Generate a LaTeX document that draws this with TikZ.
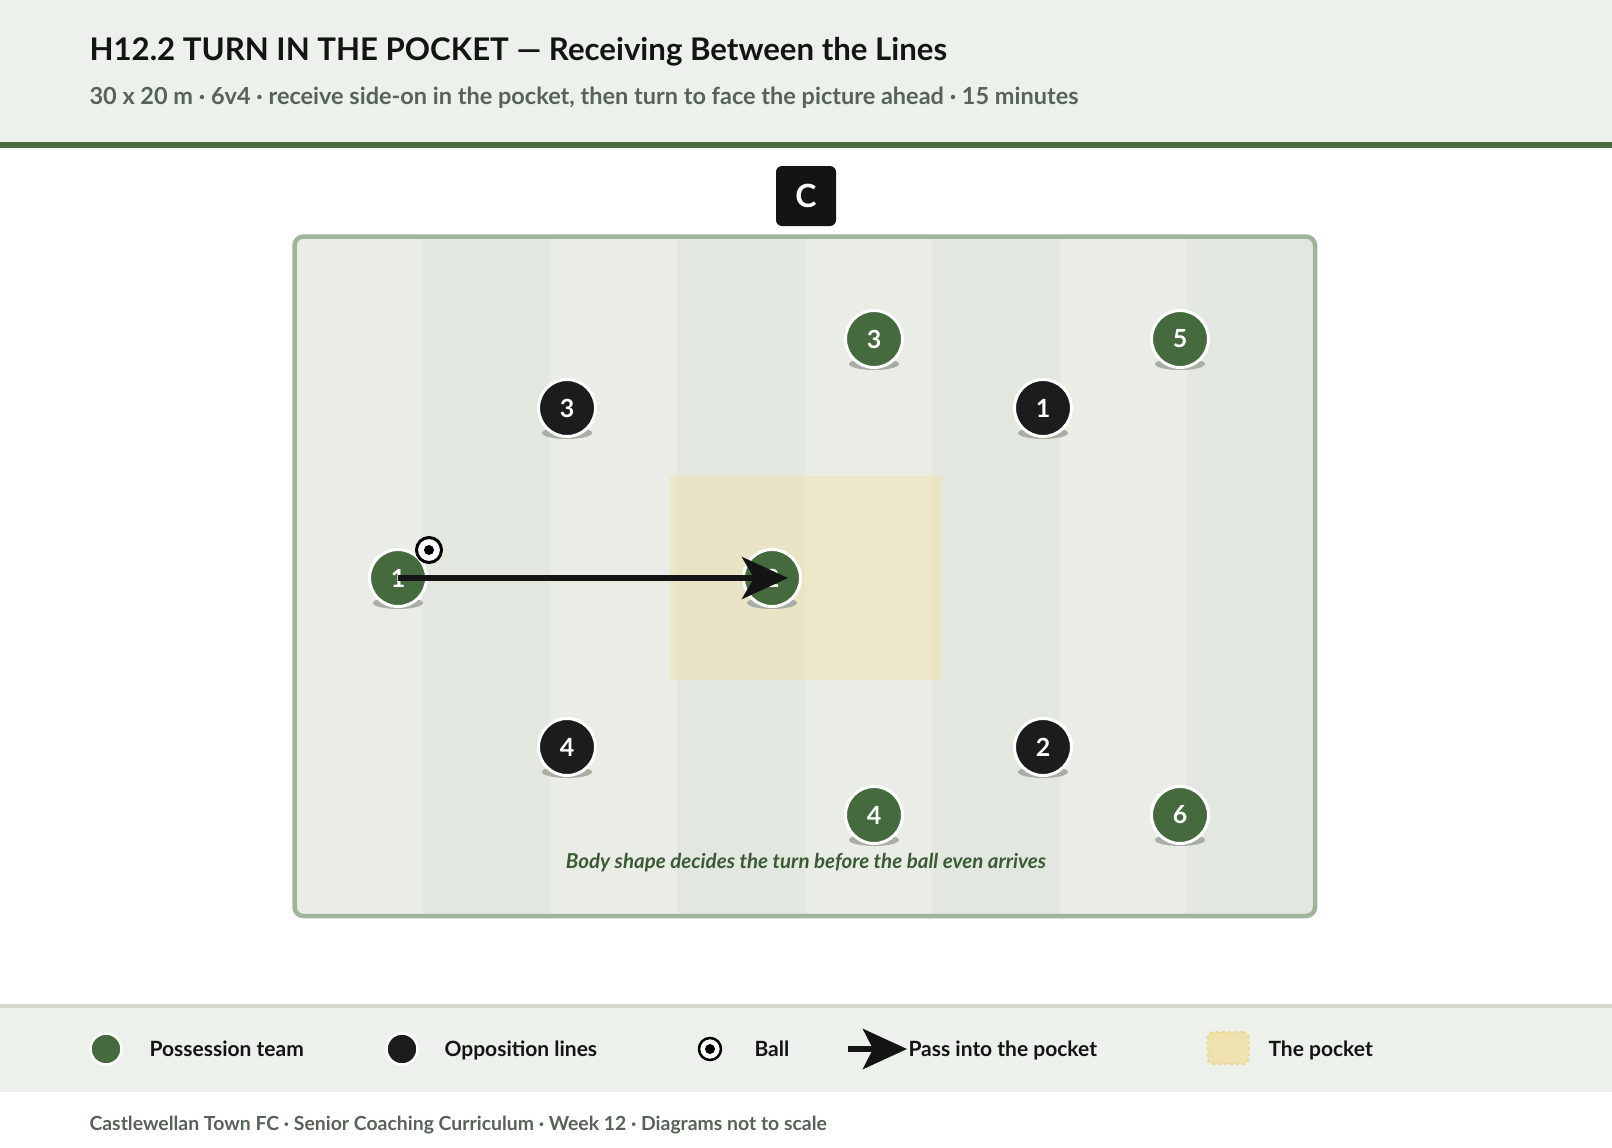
\documentclass[tikz,border=0pt]{standalone}
\usepackage{fontspec}
\setmainfont{Lato}
\usetikzlibrary{arrows.meta,positioning}
\definecolor{headbg}{HTML}{EDF1EC}
\definecolor{headline}{HTML}{4A6B40}
\definecolor{legline}{HTML}{D8D5CA}
\definecolor{stripea}{HTML}{EAEDE6}
\definecolor{stripeb}{HTML}{E2E8DF}
\definecolor{fieldline}{HTML}{A0B49A}
\definecolor{possc}{HTML}{456A3E}
\definecolor{oppc}{HTML}{1C1C1C}
\definecolor{shadowc}{HTML}{A9AEA4}
\definecolor{pocketc}{HTML}{F2E0A0}
\definecolor{swatchc}{HTML}{F0E2AE}
\definecolor{swatchline}{HTML}{EBD88F}
\definecolor{titlec}{HTML}{141414}
\definecolor{subc}{HTML}{566356}
\definecolor{capc}{HTML}{3A5A34}

\begin{document}
\begin{tikzpicture}[x=1pt,y=-1pt,
    player/.style={circle,draw=white,line width=3pt,minimum size=57pt,inner sep=0pt,text=white,font=\fontsize{25}{25}\selectfont\bfseries},
    poss/.style={player,fill=possc},
    opp/.style={player,fill=oppc},
    legdot/.style={circle,draw=white,line width=2.5pt,minimum size=31pt,inner sep=0pt},
    ballnode/.style={circle,draw=black,fill=white,line width=3pt,minimum size=25pt,inner sep=0pt,
      path picture={\fill[black] (path picture bounding box.center) circle (5pt);}},
    legtext/.style={anchor=base west,font=\fontsize{21}{21}\selectfont\bfseries,text=titlec},
    pass/.style={line width=6pt,draw=titlec,-{Stealth[length=46pt,width=42pt,inset=12pt]}}]
  \useasboundingbox (0,0) rectangle (1612,1148);
  \fill[white] (0,0) rectangle (1612,1148);
  \fill[headbg] (0,0) rectangle (1612,142);
  \fill[headline] (0,142) rectangle (1612,147.5);
  \node[anchor=base west,font=\fontsize{31.2}{31.2}\selectfont\bfseries,text=titlec] (title) at (86,60) {H12.2 TURN IN THE POCKET — Receiving Between the Lines};
  \node[anchor=base west,font=\fontsize{23.5}{23.5}\selectfont\bfseries,text=subc] (subtitle) at (86,104) {30 x 20 m · 6v4 · receive side-on in the pocket, then turn to face the picture ahead · 15 minutes};
  \node[fill=titlec,rounded corners=6pt,minimum size=60pt,inner sep=0pt,text=white,font=\fontsize{32}{32}\selectfont\bfseries] (coach) at (806,196) {C};
  \begin{scope}
    \clip[rounded corners=9pt] (294.5,236.5) rectangle (1315,916);
    \foreach \i in {0,...,7}{
      \ifodd\i\def\sc{stripeb}\else\def\sc{stripea}\fi
      \fill[\sc] (294.5+127.56*\i,236.5) rectangle ++(127.6,679.5);
    }
  \end{scope}
  \node[fill=pocketc,fill opacity=0.4,minimum width=272pt,minimum height=204pt,inner sep=0pt] (pocket) at (806,578) {};
  \draw[fieldline,line width=4.5pt,rounded corners=9pt] (294.5,236.5) rectangle (1315,916);
  \foreach \n/\x/\y in {1/398/578,2/772/578,3/874/339,4/874/815,5/1180/339,6/1180/815}{
    \fill[shadowc] (\x,\y+25) ellipse [x radius=25pt,y radius=6pt];
    \node[poss] (g\n) at (\x,\y) {\n};
  }
  \foreach \n/\x/\y in {1/1043/408,2/1043/747,3/567/408,4/567/747}{
    \fill[shadowc] (\x,\y+25) ellipse [x radius=25pt,y radius=6pt];
    \node[opp] (o\n) at (\x,\y) {\n};
  }
  \draw[pass] (g1.center) -- ([xshift=16pt]g2.center);
  \node[ballnode] (ball) at (429,550) {};
  \node[anchor=base,font=\fontsize{20.5}{20.5}\selectfont\bfseries\itshape,text=capc] (caption) at (806,868) {Body shape decides the turn before the ball even arrives};
  \fill[legline] (0,1003.5) rectangle (1612,1008);
  \fill[headbg] (0,1008) rectangle (1612,1092);
  \node[legdot,fill=possc] (legposs) at (106,1049) {};
  \node[legtext] (lposs) at (146,1056) {Possession team};
  \node[legdot,fill=oppc] (legopp) at (402,1049) {};
  \node[legtext] (lopp) at (441,1056) {Opposition lines};
  \node[ballnode,minimum size=22pt,line width=2.5pt] (legball) at (710,1049) {};
  \node[legtext] (lball) at (751,1056) {Ball};
  \coordinate (legtail) at (848,1049);
  \coordinate (legtip) at (907,1049);
  \draw[pass,-{Stealth[length=44pt,width=40pt,inset=10pt]}] (legtail) -- (legtip);
  \node[legtext] (lpass) at (905,1056) {Pass into the pocket};
  \node[fill=swatchc,draw=swatchline,dashed,line width=2pt,rounded corners=6pt,minimum width=41pt,minimum height=32pt,inner sep=0pt] (legpocket) at (1228,1048) {};
  \node[legtext] (lpocket) at (1265,1056) {The pocket};
  \node[anchor=base west,font=\fontsize{19.4}{19.4}\selectfont\bfseries,text=subc] (footer) at (86,1130) {Castlewellan Town FC · Senior Coaching Curriculum · Week 12 · Diagrams not to scale};
\end{tikzpicture}
\end{document}
